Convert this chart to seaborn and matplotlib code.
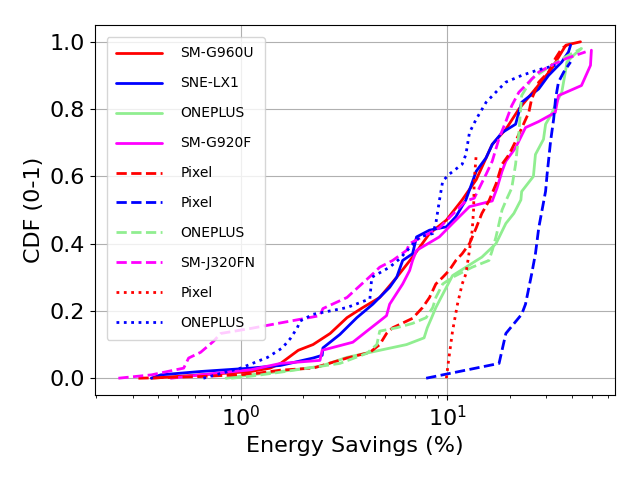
import numpy as np
import pandas as pd
import matplotlib
matplotlib.use("Agg")
import matplotlib.pyplot as plt
import seaborn as sns

# Energy savings (%) and CDF points
g960u_x = [0.37, 0.64, 1.12, 1.39, 1.56, 1.9, 2.24, 2.71, 3.27, 3.9, 4.71, 5.69, 6.79, 8.2, 9.9,
           11.8, 13.8, 16.5, 19.2, 22.2, 26.7, 32.0, 35.8, 37.5, 44.1]
g960u_y = [0.0, 0.01, 0.02, 0.03, 0.044, 0.083, 0.10, 0.133, 0.18, 0.21, 0.24, 0.30, 0.36, 0.43, 0.47,
           0.53, 0.59, 0.695, 0.74, 0.80, 0.86, 0.92, 0.97, 0.99, 1.0]

lx1_x = [0.37, 0.41, 0.64, 1.12, 1.56, 2.24, 2.48, 2.5, 3.02, 3.65, 4.36, 5.26, 5.69, 6.08, 6.79, 7.1,
         8.2, 9.9, 11.0, 12.3, 13.8, 15.4, 16.5, 18.4, 21.4, 22.9, 27.7, 30.9, 35.8, 38.6, 39.5]
lx1_y = [0.0, 0.01, 0.02, 0.03, 0.038, 0.06, 0.068, 0.09, 0.13, 0.18, 0.22, 0.27, 0.30, 0.35, 0.37, 0.42,
         0.44, 0.45, 0.48, 0.53, 0.615, 0.655, 0.695, 0.73, 0.755, 0.82, 0.86, 0.90, 0.94, 0.97, 0.99]

oneplus_x = [0.85, 1.12, 1.56, 2.42, 3.27, 4.71, 6.35, 7.72, 8.0, 8.4, 8.8, 9.7, 10.6, 12.3, 14.7, 17.2,
             19.2, 21.0, 22.7, 22.9, 26.1, 26.7, 29.2, 29.9, 31.9, 33.8, 35.8, 37.5, 37.9, 41.7, 44.6]
oneplus_y = [0.0, 0.01, 0.02, 0.035, 0.062, 0.083, 0.10, 0.12, 0.15, 0.18, 0.21, 0.26, 0.305, 0.33, 0.36, 0.40,
             0.46, 0.49, 0.53, 0.555, 0.60, 0.665, 0.71, 0.755, 0.785, 0.82, 0.85, 0.92, 0.94, 0.965, 0.98]

g920f_x = [0.46, 0.64, 1.12, 1.56, 2.42, 2.48, 3.49, 4.08, 4.71, 5.08, 5.26, 6.08, 6.57, 6.79, 7.1, 9.15,
           10.6, 12.8, 16.5, 17.4, 18.4, 19.2, 21.4, 23.9, 27.7, 33.3, 34.5, 44.6, 49.3, 49.8]
g920f_y = [0.0, 0.01, 0.025, 0.044, 0.053, 0.083, 0.107, 0.14, 0.17, 0.186, 0.22, 0.28, 0.32, 0.35, 0.38, 0.42,
           0.46, 0.51, 0.527, 0.565, 0.615, 0.645, 0.685, 0.745, 0.763, 0.79, 0.84, 0.87, 0.93, 0.975]

pixel_a_x = [0.32, 0.64, 1.12, 1.56, 2.24, 3.27, 4.22, 4.71, 5.08, 5.44, 6.79, 7.59, 8.2, 8.8, 9.5, 10.2,
             11.0, 11.8, 12.8, 13.8, 14.7, 15.9, 17.2, 18.4, 19.9, 21.4, 22.9, 24.8, 25.6, 27.7, 30.9,
             33.3, 35.8, 37.9]
pixel_a_y = [0.0, 0.005, 0.012, 0.024, 0.03, 0.06, 0.077, 0.10, 0.133, 0.15, 0.178, 0.21, 0.24, 0.28, 0.30, 0.32,
             0.35, 0.37, 0.40, 0.447, 0.49, 0.527, 0.577, 0.636, 0.665, 0.704, 0.743, 0.79, 0.83, 0.88, 0.91,
             0.95, 0.98, 0.99]

pixel_b_x = [7.9, 17.8, 19.2, 22.9, 23.9, 25.6, 26.7, 27.7, 29.9, 30.4, 31.6, 32.7, 33.4, 34.5, 36.6, 39.5]
pixel_b_y = [0.0, 0.044, 0.133, 0.19, 0.22, 0.31, 0.37, 0.447, 0.556, 0.606, 0.704, 0.77, 0.83, 0.88, 0.91, 0.94]

oneplus_b_x = [0.9, 1.12, 1.56, 3.02, 4.08, 4.56, 4.71, 5.69, 6.79, 7.9, 8.5, 8.8, 9.5, 10.6, 13.2, 15.9,
               16.5, 17.2, 17.8, 18.4, 19.2, 20.5, 21.4, 22.2, 22.7, 22.9, 25.6, 31.9, 38.6, 44.6]
oneplus_b_y = [0.0, 0.006, 0.018, 0.044, 0.074, 0.10, 0.14, 0.15, 0.163, 0.18, 0.21, 0.24, 0.28, 0.30, 0.33, 0.35,
               0.38, 0.42, 0.46, 0.50, 0.527, 0.565, 0.636, 0.73, 0.81, 0.84, 0.89, 0.93, 0.96, 0.98]

j320fn_x = [0.256, 0.37, 0.53, 0.56, 0.64, 0.74, 0.80, 1.12, 1.61, 2.42, 2.5, 3.27, 4.36, 4.71, 5.44, 6.35,
            6.57, 9.15, 12.3, 13.5, 15.4, 16.5, 17.8, 19.2, 20.5, 22.2, 24.8, 27.7, 31.9, 37.5, 46.7]
j320fn_y = [0.0, 0.01, 0.03, 0.06, 0.077, 0.11, 0.133, 0.148, 0.166, 0.186, 0.207, 0.24, 0.31, 0.33, 0.35, 0.38,
            0.40, 0.447, 0.527, 0.535, 0.606, 0.645, 0.713, 0.763, 0.81, 0.85, 0.88, 0.91, 0.93, 0.95, 0.97]

pixel_c_x = [9.9, 10.1, 10.6, 11.2, 11.8, 12.3, 12.8, 13.2, 13.4, 13.5, 13.8]
pixel_c_y = [0.0, 0.044, 0.14, 0.22, 0.28, 0.31, 0.38, 0.44, 0.50, 0.586, 0.665]

oneplus_c_x = [0.66, 1.0, 1.35, 1.59, 1.74, 1.88, 1.94, 2.24, 3.27, 4.22, 4.31, 5.26, 5.88, 7.34, 8.5, 8.8,
               9.15, 9.5, 10.2, 11.8, 12.3, 12.8, 13.8, 15.4, 17.8, 19.2, 22.9, 27.7, 33.4]
oneplus_c_y = [0.0, 0.03, 0.062, 0.09, 0.118, 0.15, 0.17, 0.19, 0.21, 0.236, 0.30, 0.33, 0.355, 0.42, 0.43, 0.46,
               0.527, 0.586, 0.606, 0.636, 0.665, 0.73, 0.77, 0.82, 0.86, 0.88, 0.90, 0.917, 0.93]

series = [
    ("SM-G960U", g960u_x, g960u_y, "red", "-"),
    ("SNE-LX1", lx1_x, lx1_y, "blue", "-"),
    ("ONEPLUS", oneplus_x, oneplus_y, "lightgreen", "-"),
    ("SM-G920F", g920f_x, g920f_y, "magenta", "-"),
    ("Pixel", pixel_a_x, pixel_a_y, "red", "--"),
    ("Pixel", pixel_b_x, pixel_b_y, "blue", "--"),
    ("ONEPLUS", oneplus_b_x, oneplus_b_y, "lightgreen", "--"),
    ("SM-J320FN", j320fn_x, j320fn_y, "magenta", "--"),
    ("Pixel", pixel_c_x, pixel_c_y, "red", ":"),
    ("ONEPLUS", oneplus_c_x, oneplus_c_y, "blue", ":"),
]

sns.set_style("ticks", {"axes.grid": True, "grid.color": "#b0b0b0",
                        "axes.edgecolor": "black", "xtick.bottom": True,
                        "ytick.left": True, "text.color": "black",
                        "axes.labelcolor": "black", "xtick.color": "black",
                        "ytick.color": "black"})
plt.rcParams["font.family"] = ["DejaVu Sans"]

fig, ax = plt.subplots(figsize=(6.4, 4.8), dpi=100)

for label, xs, ys, color, ls in series:
    df = pd.DataFrame({"x": xs, "y": ys})
    sns.lineplot(data=df, x="x", y="y", ax=ax, color=color, linestyle=ls,
                 linewidth=2, label=label, estimator=None, sort=False)

ax.set_xscale("log")
ax.set_yticks(np.arange(0, 1.01, 0.2))
ax.grid(True, which="major", color="#b0b0b0", linewidth=0.8)
ax.grid(False, which="minor")
ax.tick_params(axis="both", which="major", labelsize=16, length=3.5, direction="out")
ax.tick_params(axis="x", which="minor", length=2, bottom=True)
ax.set_xlabel("Energy Savings (%)", fontsize=16)
ax.set_ylabel("CDF (0-1)", fontsize=16)
ax.legend(loc="upper left", fontsize=10, labelspacing=1.15, handlelength=3.3,
          handletextpad=1.3, borderpad=0.7, borderaxespad=0.85, framealpha=0.8)

fig.subplots_adjust(left=0.148, right=0.961, top=0.948, bottom=0.177)
plt.savefig("out.png", dpi=100)
